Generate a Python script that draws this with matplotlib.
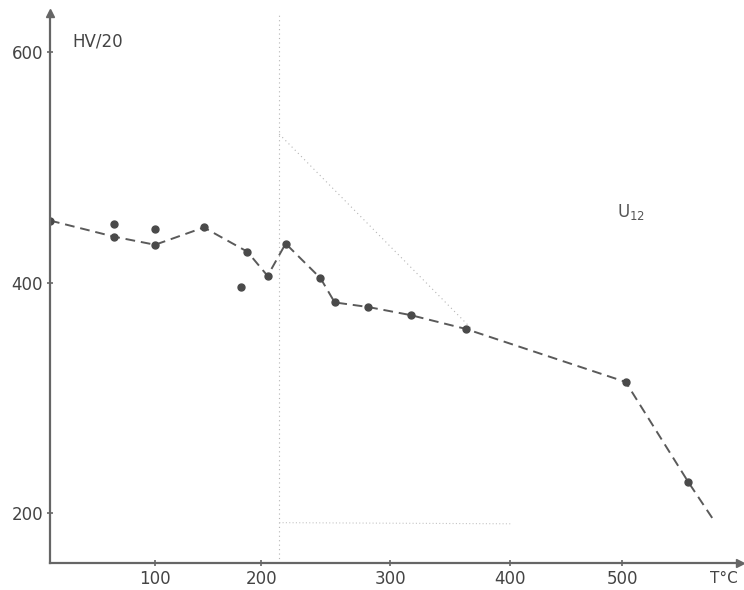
import numpy as np
import matplotlib
matplotlib.use("Agg")
import matplotlib.pyplot as plt

# hardness curve (T in deg C, HV/20)
temp = [0, 61, 100, 146, 187, 205, 219, 246, 257, 283, 317, 363, 503, 559, 583]
hv = [454, 440, 433, 448, 427, 406, 434, 404, 383, 379, 372, 360, 314, 227, 192]

# loose measurement points off the curve
extra_t = [61, 100, 181]
extra_hv = [451, 447, 396]

# faint pencil guide lines
guide_v_t = [214, 214]
guide_v_hv = [157, 634]
guide_d_t = [214, 367]
guide_d_hv = [529, 361]
guide_h_t = [214, 400]
guide_h_hv = [192, 191]

xticks = [100, 200, 300, 400, 500]
yticks = [200, 400, 600]

# the hand-drawn x axis is not evenly spaced, map it piecewise
x_knots = [0, 100, 200, 300, 400, 500, 600, 700]
x_pix = [50, 155, 261, 390, 510, 622, 734, 846]


def fwd(v):
    return np.interp(v, x_knots, x_pix)


def inv(p):
    return np.interp(p, x_pix, x_knots)


ink = "#4a4a4a"

fig = plt.figure(figsize=(7.44, 5.90), dpi=100)
ax = fig.add_axes([50 / 744, 27 / 590, 690 / 744, 550 / 590])
ax.set_xscale("function", functions=(fwd, inv))
ax.set_xlim(0, 605)
ax.set_ylim(157, 634)

# guide lines
ax.plot(guide_v_t, guide_v_hv, color="#b5b5b5", lw=0.8, ls=(0, (1, 3)))
ax.plot(guide_d_t, guide_d_hv, color="#b5b5b5", lw=0.8, ls=(0, (1, 3)))
ax.plot(guide_h_t, guide_h_hv, color="#c5c5c5", lw=0.8, ls=(0, (1, 2)))

# main curve
ax.plot(temp, hv, color="#5a5a5a", lw=1.4, ls=(0, (5, 3)))
ax.plot(temp[:-1], hv[:-1], "o", color=ink, ms=5, ls="none")
ax.plot(extra_t, extra_hv, "o", color=ink, ms=5, ls="none")

# axes look
for s in ["top", "right"]:
    ax.spines[s].set_visible(False)
for s in ["left", "bottom"]:
    ax.spines[s].set_color("#666666")
    ax.spines[s].set_linewidth(1.6)
ax.plot(0, 1, "^", color="#666666", ms=6, transform=ax.transAxes, clip_on=False)
ax.plot(1, 0, ">", color="#666666", ms=6, transform=ax.transAxes, clip_on=False)

ax.set_xticks(xticks)
ax.set_yticks(yticks)
ax.tick_params(direction="inout", length=4, width=1.2, color="#666666",
               labelsize=12, labelcolor="#444444", pad=3)

ax.text(0.033, 0.94, "HV/20", transform=ax.transAxes, fontsize=12, color="#444444")
ax.text(0.822, 0.63, r"U$_{12}$", transform=ax.transAxes, fontsize=12, color="#555555")
fig.text(710 / 744, 7 / 590, "T°C", fontsize=11, color="#444444")

fig.savefig("out.png", dpi=100, facecolor="white")
